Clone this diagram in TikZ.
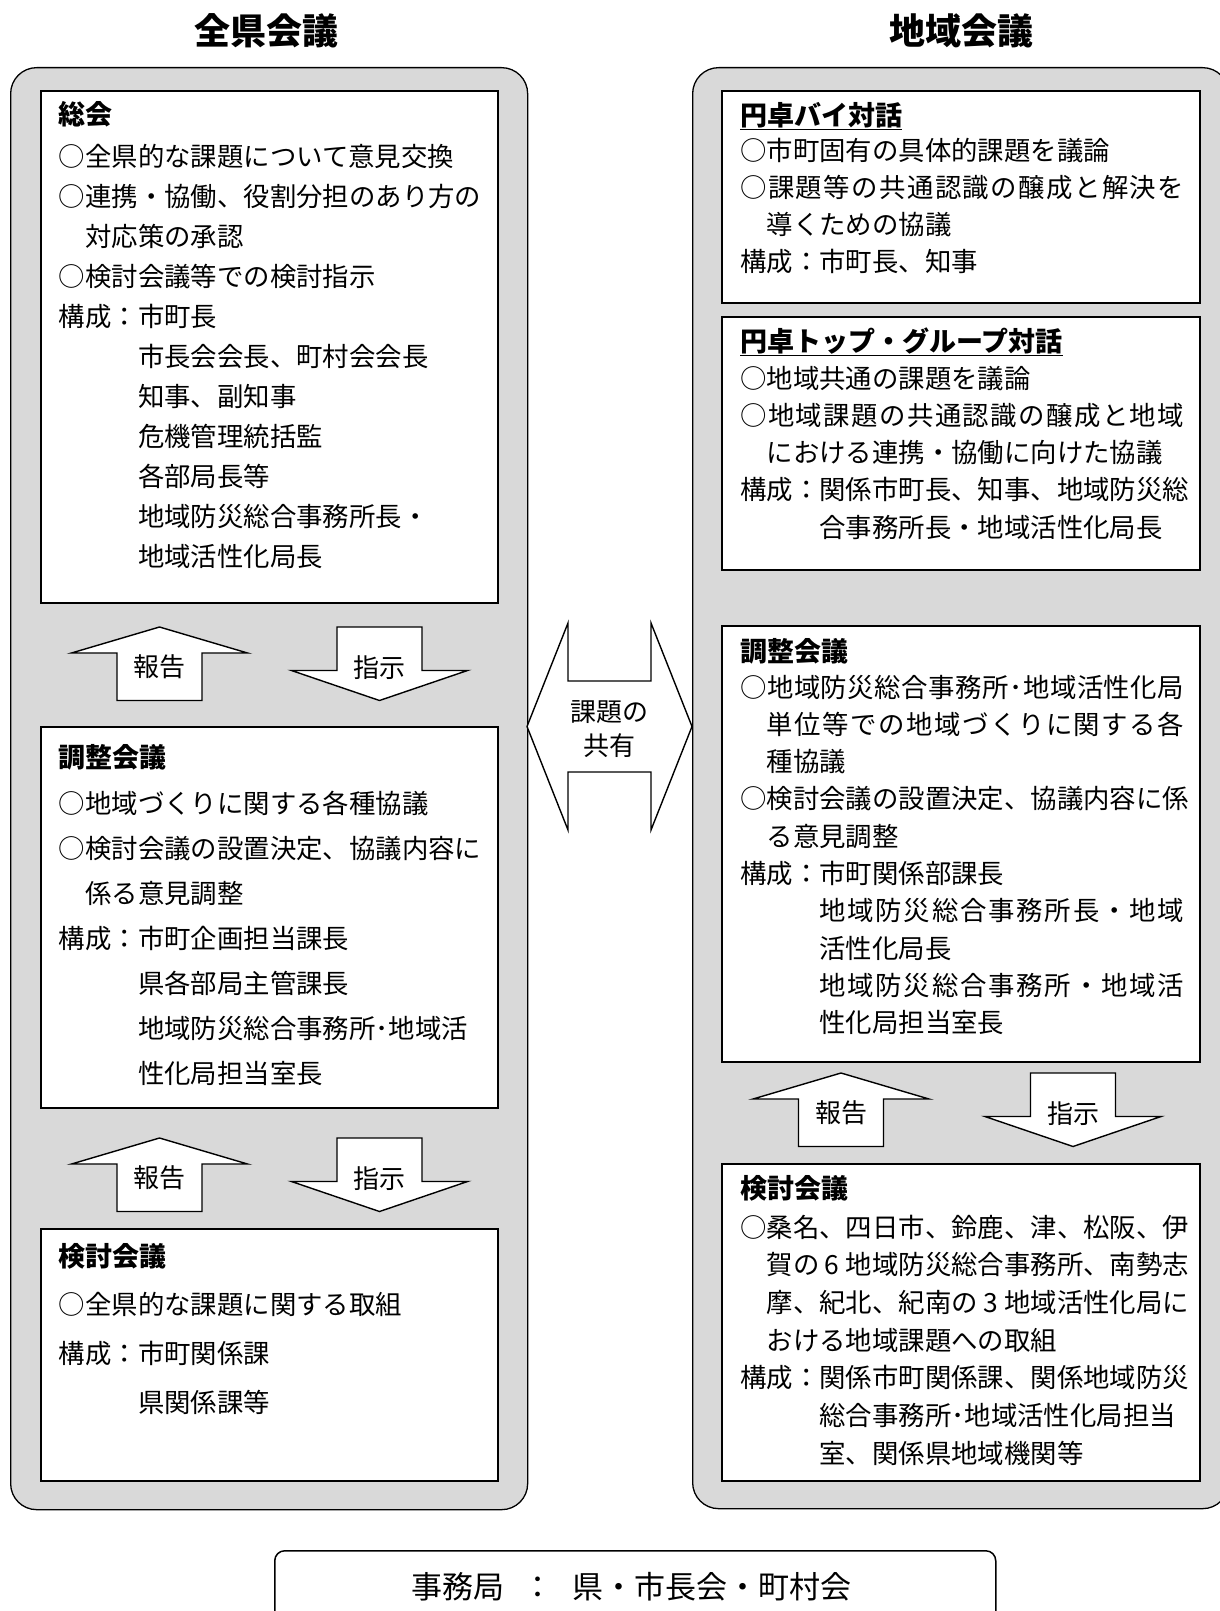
\documentclass[tikz,border=0pt]{standalone}
\usepackage{fontspec}
\setmainfont{Noto Sans CJK JP}
\definecolor{panelgray}{RGB}{217,217,217}
\makeatletter
\def\spr#1{\spr@#1\relax}
\def\spr@#1#2\relax{#1\ifx\relax#2\relax\else\hfill\spr@#2\relax\fi}
\makeatother
\newcommand\mr{\makebox[1em][c]{○}}
\newcommand\sline[1]{\makebox[444pt][s]{#1}}
\newcommand\tlines[5]{\foreach \t [count=\i from 0] in {#5}{\node[txt] (#1\i) at (#2,{#3+\i*#4}) {\t};}}
\newcommand\uparr[2]{\draw[blk] (#1,#2) -- ({#1+88},{#2+26}) -- ({#1+42.5},{#2+26}) -- ({#1+42.5},{#2+73.5}) -- ({#1-42.5},{#2+73.5}) -- ({#1-42.5},{#2+26}) -- ({#1-88},{#2+26}) -- cycle;}
\newcommand\downarr[2]{\draw[blk] ({#1-42.5},#2) -- ({#1+42.5},#2) -- ({#1+42.5},{#2+43.5}) -- ({#1+88},{#2+43.5}) -- (#1,{#2+73.5}) -- ({#1-88},{#2+43.5}) -- ({#1-42.5},{#2+43.5}) -- cycle;}
\begin{document}
\begin{tikzpicture}[x=1pt,y=-1pt,line join=miter,
  panel/.style={draw=black,line width=1.3pt,fill=panelgray,rounded corners=26pt,inner sep=0pt,anchor=north west},
  box/.style={draw=black,line width=1.8pt,fill=white,inner sep=0pt,anchor=north west},
  blk/.style={draw=black,line width=1.4pt,fill=white},
  txt/.style={anchor=base west,inner sep=0pt,font=\fontsize{26.4}{26.4}\selectfont},
  hd/.style={anchor=base west,inner sep=0pt,font=\bfseries\fontsize{27}{27}\selectfont},
  ttl/.style={inner sep=0pt,font=\bfseries\fontsize{36}{36}\selectfont},
  alab/.style={inner sep=0pt,font=\fontsize{26}{26}\selectfont}]
\useasboundingbox (0,0) rectangle (1220,1611);
% titles
\node[ttl] (t1) at (266,31) {全県会議};
\node[ttl] (t2) at (961,31) {地域会議};
% panels
\node[panel,minimum width=517pt,minimum height=1442pt] (L) at (10,67) {};
\begin{scope}
\clip (0,0) rectangle (1220,1611);
\node[panel,minimum width=536pt,minimum height=1441pt] (R) at (692,67) {};
\node[draw=black,line width=1.5pt,fill=white,rounded corners=10pt,inner sep=0pt,anchor=north west,minimum width=721pt,minimum height=100pt] (jbox) at (274,1550) {};
\end{scope}
% boxes left
\node[box,minimum width=457pt,minimum height=512pt] (b1) at (40,90) {};
\node[box,minimum width=457pt,minimum height=381pt] (b2) at (40,726) {};
\node[box,minimum width=457pt,minimum height=252pt] (b3) at (40,1228) {};
% boxes right
\node[box,minimum width=478pt,minimum height=212pt] (r1) at (721,90) {};
\node[box,minimum width=478pt,minimum height=253pt] (r2) at (721,316) {};
\node[box,minimum width=478pt,minimum height=436pt] (r3) at (721,625) {};
\node[box,minimum width=478pt,minimum height=317pt] (r4) at (721,1163) {};
% arrows left
\uparr{159.5}{627}
\downarr{379.5}{627}
\node[alab] (la1) at (159.5,667) {報告};
\node[alab] (la2) at (379.5,668) {指示};
\uparr{159.5}{1138}
\downarr{379.5}{1138}
\node[alab] (la3) at (159.5,1178) {報告};
\node[alab] (la4) at (379.5,1179) {指示};
% arrows right
\uparr{841}{1073}
\downarr{1073}{1073}
\node[alab] (ra1) at (841,1113) {報告};
\node[alab] (ra2) at (1073,1114) {指示};
% double arrow
\draw[blk] (527,726.5) -- (568,623) -- (568,681) -- (651,681) -- (651,623) -- (692,726.5) -- (651,830) -- (651,772) -- (568,772) -- (568,830) -- cycle;
\node[alab] (k1) at (609.5,712) {課題の};
\node[alab] (k2) at (609.5,746) {共有};
% left texts
\node[hd] (h1) at (58.6,124) {総会};
\tlines{a}{58.6}{166}{40}{{\mr 全県的な課題について意見交換},{\mr 連携・協働、役割分担のあり方の},{\hspace*{1em}対応策の承認},{\mr 検討会議等での検討指示},{構成：市町長},{\hspace*{3em}市長会会長、町村会会長},{\hspace*{3em}知事、副知事},{\hspace*{3em}危機管理統括監},{\hspace*{3em}各部局長等},{\hspace*{3em}地域防災総合事務所長・},{\hspace*{3em}地域活性化局長}}
\node[hd] (h2) at (58.6,767) {調整会議};
\tlines{b}{58.6}{813}{45}{{\mr 地域づくりに関する各種協議},{\mr 検討会議の設置決定、協議内容に},{\hspace*{1em}係る意見調整},{構成：市町企画担当課長},{\hspace*{3em}県各部局主管課長},{\hspace*{3em}地域防災総合事務所･地域活},{\hspace*{3em}性化局担当室長}}
\node[hd] (h3) at (58.6,1266) {検討会議};
\tlines{c}{58.6}{1314}{49}{{\mr 全県的な課題に関する取組},{構成：市町関係課},{\hspace*{3em}県関係課等}}
% right texts
\node[hd] (h4) at (740,125) {\underline{円卓バイ対話}};
\tlines{d}{740}{160}{37.3}{{\mr 市町固有の具体的課題を議論},{\sline{\spr{\mr 課題等の共通認識の醸成と解決を}}},{\hspace*{1em}導くための協議},{構成：市町長、知事}}
\node[hd] (h5) at (740,351) {\underline{円卓トップ・グループ対話}};
\tlines{e}{740}{388}{37.3}{{\mr 地域共通の課題を議論},{\sline{\spr{\mr 地域課題の共通認識の醸成と地域}}},{\hspace*{1em}における連携・協働に向けた協議},{構成：関係市町長、知事、地域防災総},{\hspace*{3em}合事務所長・地域活性化局長}}
\node[hd] (h6) at (740,661) {調整会議};
\tlines{f}{740}{697}{37.3}{{\sline{\spr{\mr 地域防災総合事務所･地域活性化局}}},{\sline{\hspace*{1em}\spr{単位等での地域づくりに関する各}}},{\hspace*{1em}種協議},{\mr 検討会議の設置決定、協議内容に係},{\hspace*{1em}る意見調整},{構成：市町関係部課長},{\sline{\hspace*{3em}\spr{地域防災総合事務所長・地域}}},{\hspace*{3em}活性化局長},{\sline{\hspace*{3em}\spr{地域防災総合事務所・地域活}}},{\hspace*{3em}性化局担当室長}}
\node[hd] (h7) at (740,1198) {検討会議};
\tlines{g}{740}{1237}{37.7}{{\mr 桑名、四日市、鈴鹿、津、松阪、伊},{\hspace*{1em}賀の\hspace{0.2em}6\hspace{0.25em}地域防災総合事務所、南勢志},{\hspace*{1em}摩、紀北、紀南の\hspace{0.2em}3\hspace{0.25em}地域活性化局に},{\hspace*{1em}おける地域課題への取組},{構成：関係市町関係課、関係地域防災},{\hspace*{3em}総合事務所･地域活性化局担当},{\hspace*{3em}室、関係県地域機関等}}
% secretariat
\node[txt,font=\fontsize{31}{31}\selectfont] (jim) at (411,1598) {事務局\hspace{0.6em}：\hspace{0.6em}県・市長会・町村会};
\end{tikzpicture}
\end{document}
